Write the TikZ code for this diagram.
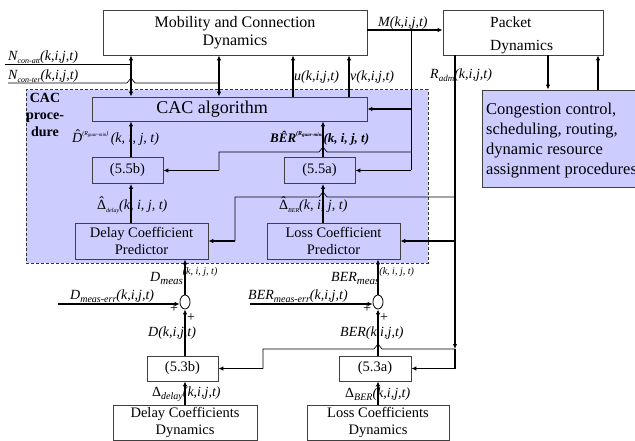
\documentclass[tikz,border=0pt]{standalone}
\usepackage{fontspec}
\setmainfont{Liberation Serif}
\usetikzlibrary{arrows.meta,calc}
\definecolor{cacfill}{RGB}{204,204,255}
\newcommand\sbx[2][9]{\raisebox{-0.45ex}{\fontsize{#1}{#1}\selectfont #2}}
\newcommand\spx[2][7]{\raisebox{1.1ex}{\fontsize{#1}{#1}\selectfont #2}}
\newcommand\hatx[2][0pt]{\leavevmode\setbox0=\hbox{#2}\rlap{\hbox to\wd0{\hss\kern#1\raisebox{0.2em}{\upshape ˆ}\hss}}\box0}
\begin{document}
\begin{tikzpicture}[x=1pt,y=-1pt,
  box/.style={draw=black!75, line width=0.8pt, fill=white, inner sep=0pt, align=center, font=\fontsize{14.5}{17}\selectfont},
  pbox/.style={box, fill=cacfill},
  ar/.style={line width=1.4pt, -{Latex[length=5pt,width=4.5pt]}},
  dar/.style={line width=1.4pt, {Latex[length=5pt,width=4.5pt]}-{Latex[length=5pt,width=4.5pt]}},
  ln/.style={line width=1.4pt},
  thn/.style={line width=0.7pt},
  lbl/.style={inner sep=0pt, anchor=west, font=\fontsize{14}{16}\selectfont\itshape},
]
\useasboundingbox (0,0) rectangle (635,441);

% column / row coordinates
\coordinate (xA) at (131,0);
\coordinate (xB) at (219,0);
\coordinate (xU) at (293,0);
\coordinate (xV) at (349,0);
\coordinate (xE) at (323,0);
\coordinate (xM) at (411,0);
\coordinate (xR) at (455,0);
\coordinate (xG) at (235,0);
\coordinate (xH) at (263,0);
\coordinate (xD) at (185,0);
\coordinate (xL) at (378,0);
\coordinate (xP1) at (548,0);
\coordinate (xP2) at (598,0);
\coordinate (yM) at (0,30);
\coordinate (y152) at (0,152);
\coordinate (yR1) at (0,197);
\coordinate (yR2) at (0,349);

% CAC procedure area
\node[draw=black!80, densely dashed, line width=1pt, fill=cacfill, minimum width=402pt, minimum height=173pt, inner sep=0pt] (cacproc) at (227,176.5) {};
\node[align=center, inner sep=0pt, font=\bfseries\fontsize{14}{17}\selectfont] (cactxt) at (45,115) {CAC\\proce-\\dure};

% boxes
\node[box, minimum width=264pt, minimum height=45pt, font=\fontsize{16}{18}\selectfont] (mob) at (235,32.5) {Mobility and Connection\\Dynamics};
\node[box, minimum width=160pt, minimum height=45pt] (pkt) at (523,32.5) {};
\node[align=left, inner sep=0pt, anchor=west, font=\fontsize{15.5}{23}\selectfont] (pkttxt) at (490,35) {Packet\\Dynamics};
\node[pbox, minimum width=200pt, minimum height=97pt] (cong) at (582,138.5) {};
\node[align=left, inner sep=0pt, anchor=west, font=\fontsize{16.5}{20}\selectfont] (congtxt) at (486,141) {Congestion control,\\scheduling, routing,\\dynamic resource\\assignment procedures};
\node[pbox, minimum width=275pt, minimum height=24pt, font=\fontsize{18}{19}\selectfont] (cacalg) at (229.5,109) {CAC algorithm\hspace{35pt}};
\node[pbox, minimum width=71pt, minimum height=26pt] (b55b) at (127.5,170.5) {(5.5b)};
\node[pbox, minimum width=71pt, minimum height=26pt] (b55a) at (319.5,170.5) {(5.5a)};
\node[pbox, minimum width=133pt, minimum height=36pt] (dcp) at (141.5,241) {Delay Coefficient\\Predictor};
\node[pbox, minimum width=133pt, minimum height=36pt] (lcp) at (333.5,241) {Loss Coefficient\\Predictor};
\node[box, minimum width=71pt, minimum height=25pt] (b53b) at (182.5,368.5) {(5.3b)};
\node[box, minimum width=72pt, minimum height=25pt] (b53a) at (375,368.5) {(5.3a)};
\node[box, minimum width=144pt, minimum height=35pt] (dcd) at (185,422.5) {Delay Coefficients\\Dynamics};
\node[box, minimum width=142pt, minimum height=35pt] (lcd) at (378,422.5) {Loss Coefficients\\Dynamics};
\node[draw=black, line width=0.8pt, fill=white, circle, inner sep=0pt, xscale=0.72, minimum width=14pt] (sd) at (185,302) {};
\node[draw=black, line width=0.8pt, fill=white, circle, inner sep=0pt, xscale=0.72, minimum width=14pt] (sb) at (378,302) {};

% mobility <-> CAC algorithm
\draw[dar] (xA |- mob.south) -- (xA |- cacalg.north);
\draw[dar] (xB |- mob.south) -- (xB |- cacalg.north);
\draw[ar] (xU |- cacalg.north) -- (xU |- mob.south);
\draw[ar] (xV |- cacalg.north) -- (xV |- mob.south);

% N lines
\coordinate (n1s) at (5,64);
\coordinate (n2s) at (8,83);
\draw[thn] (n1s) -- (n1s -| xA);
\draw[thn] (n2s) -- ($(n2s -| xA)+(-4,0)$) -- ++(4,-5) -- ++(4,5) -- (n2s -| xB);

% M signal
\draw[ar] (mob.east |- yM) -- (pkt.west |- yM);
\draw[thn] (xM |- yM) -- (xM |- b55a.east);
\draw[ar] (xM |- cacalg.east) -- (cacalg.east);
\draw[ar] (xM |- b55a.east) -- (b55a.east);
\draw[thn] (xM |- y152) -- ($(xE |- y152)+(4,0)$) -- ++(-4,-5) -- ++(-4,5) -- (xB |- y152) -- (xB |- b55b.east);
\draw[ar] (xB |- b55b.east) -- (b55b.east);

% inside CAC
\draw[ar] (xA |- b55b.north) -- (xA |- cacalg.south);
\draw[ar] (xA |- dcp.north) -- (xA |- b55b.south);
\draw[ar] (xE |- b55a.north) -- (xE |- cacalg.south);
\draw[ar] (xE |- lcp.north) -- (xE |- b55a.south);

% R_adm
\draw[ar] (xR |- pkt.south) -- (xR |- yR2);
\draw[ar] (xR |- yR2) -- (xR |- b53a.east) -- (b53a.east);
\draw[ar] (xR |- lcp.east) -- (lcp.east);
\draw[thn] (xR |- yR1) -- ($(xE |- yR1)+(4,0)$) -- ++(-4,-5) -- ++(-4,5) -- (xG |- yR1) -- (xG |- dcp.east);
\draw[ar] (xG |- dcp.east) -- (dcp.east);
\draw[thn] (xR |- yR2) -- ($(xL |- yR2)+(4,0)$) -- ++(-4,-5) -- ++(-4,5) -- (xH |- yR2) -- (xH |- b53b.east);
\draw[ar] (xH |- b53b.east) -- (b53b.east);

% packet <-> congestion
\draw[ar] (xP1 |- pkt.south) -- (xP1 |- cong.north);
\draw[ar] (xP2 |- cong.north) -- (xP2 |- pkt.south);

% measurement sums
\coordinate (de) at (58,304);
\coordinate (be) at (250,304);
\draw[ar] (de) -- (de -| sd.west);
\draw[ar] (be) -- (be -| sb.west);
\draw[ar] (sd.north) -- (xD |- dcp.south);
\draw[ar] (xD |- b53b.north) -- (sd.south);
\draw[ar] (xD |- dcd.north) -- (xD |- b53b.south);
\draw[ar] (sb.north) -- (xL |- lcp.south);
\draw[ar] (xL |- b53a.north) -- (sb.south);
\draw[ar] (xL |- lcd.north) -- (xL |- b53a.south);

% labels
\node[lbl] (lM) at (378,23) {M(k,i,j,t)};
\node[lbl] (lN1) at (8,57) {N\sbx[8]{con-att}(k,i,j,t)};
\node[lbl] (lN2) at (8,76) {N\sbx[8]{con-ter}(k,i,j,t)};
\node[lbl] (lu) at (294,77) {u(k,i,j,t)};
\node[lbl] (lv) at (350,77) {v(k,i,j,t)};
\node[lbl] (lR) at (430,75) {R\sbx{adm}(k,i,j,t)};
\node[lbl] (lDh) at (72,138) {\hatx[1.5pt]{D}\spx[6]{(R\sbx[5]{guar-min})}\,(k, i, j, t)};
\node[lbl, font=\fontsize{13}{16}\selectfont\bfseries\itshape] (lBh) at (270,138) {BÊR\spx[6]{(R\sbx[5]{guar-min})}(k, i, j, t)};
\node[lbl] (lDd) at (97,205) {\hatx{\upshape Δ}\sbx[6]{delay}(k, i, j, t)};
\node[lbl] (lBd) at (279,205) {\hatx{\upshape Δ}\sbx[6]{BER}(k, i, j, t)};
\node[lbl] (lDm) at (150,276) {D\sbx[11]{meas}\spx[10]{(k, i, j, t)}};
\node[lbl] (lDe) at (70,296) {D\sbx[10]{meas-err}(k,i,j,t)};
\node[lbl] (lBm) at (331,276) {BER\sbx[11]{meas}\spx[10]{(k, i, j, t)}};
\node[lbl] (lBe) at (248,296) {BER\sbx[10]{meas-err}(k,i,j,t)};
\node[lbl] (lD) at (148,333) {D(k,i,j,t)};
\node[lbl] (lB) at (340,333) {BER(k,i,j,t)};
\node[lbl, font=\fontsize{14}{16}\selectfont] (lDD) at (152,394) {Δ\sbx[10]{\itshape delay}\itshape(k,i,j,t)};
\node[lbl, font=\fontsize{14}{16}\selectfont] (lBD) at (345,394) {Δ\sbx[10]{\itshape BER}\itshape(k,i,j,t)};
\node[inner sep=0pt, font=\fontsize{14}{14}\selectfont] (p1) at (174,309) {+};
\node[inner sep=0pt, font=\fontsize{14}{14}\selectfont] (p2) at (191,318) {+};
\node[inner sep=0pt, font=\fontsize{14}{14}\selectfont] (p3) at (367,309) {+};
\node[inner sep=0pt, font=\fontsize{14}{14}\selectfont] (p4) at (384,318) {+};
\end{tikzpicture}
\end{document}
